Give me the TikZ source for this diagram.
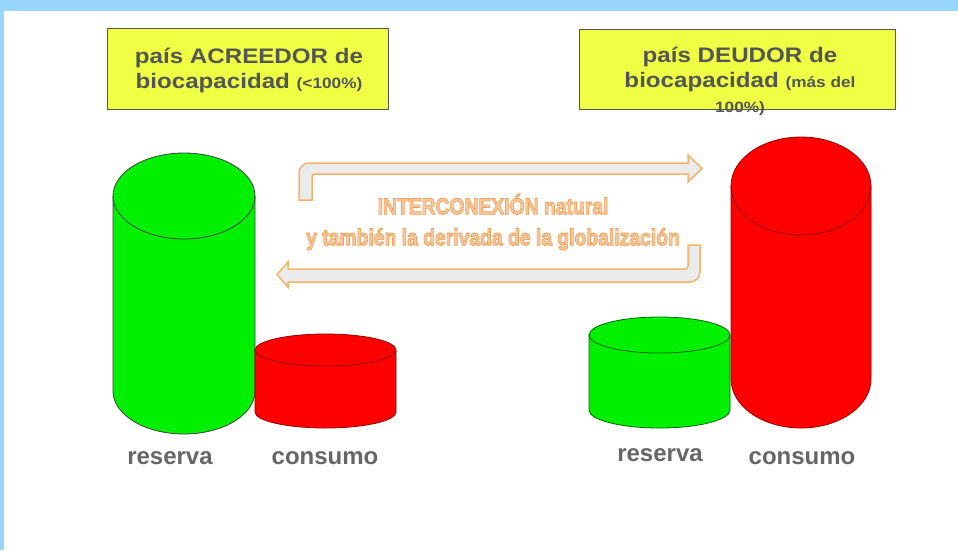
\documentclass[tikz,border=0pt]{standalone}
\usepackage{fontspec}
\setmainfont{Liberation Sans}
\definecolor{bandblue}{HTML}{99D6FF}
\definecolor{boxyellow}{HTML}{EEFF44}
\definecolor{boxtext}{HTML}{555555}
\definecolor{labeltext}{HTML}{666666}
\definecolor{cgreen}{HTML}{00F000}
\definecolor{cred}{HTML}{FF0000}
\definecolor{arrorange}{HTML}{F5B26B}
\definecolor{arrfill}{HTML}{EBEBEB}
\definecolor{midtext}{HTML}{F8CBA6}
\newcommand\cylin[7]{%
  \fill[#6] (#1-#2,#3) -- (#1-#2,#4) arc[start angle=180,end angle=0,x radius=#2,y radius=#5] -- (#1+#2,#3) arc[start angle=0,end angle=-180,x radius=#2,y radius=#5] -- cycle;
  \draw[#7,line width=0.8] (#1-#2,#3) -- (#1-#2,#4) arc[start angle=180,end angle=0,x radius=#2,y radius=#5] -- (#1+#2,#3);
  \draw[#7,line width=0.8] (#1,#3) ellipse[x radius=#2,y radius=#5];
}
\newcommand\outlinetext[1]{\special{pdf:literal direct 2 Tr 0.95 0.62 0.32 RG 0.8 w}#1\special{pdf:literal direct 0 Tr}}
\tikzset{
  ybox/.style={draw=boxtext,line width=1,fill=boxyellow,inner sep=0},
  boxtxt/.style={text=boxtext,font=\bfseries\fontsize{21}{25}\selectfont,align=center,inner sep=0,xscale=1.15},
  lbl/.style={text=labeltext,font=\bfseries\fontsize{24}{26}\selectfont,inner sep=0},
  arr/.style={draw=arrorange,fill=arrfill,line width=1.5},
  mid/.style={text=midtext,font=\bfseries\fontsize{23}{31}\selectfont,align=center,inner sep=0,xscale=0.84}
}
\begin{document}
\begin{tikzpicture}[x=1pt,y=-1pt]
\useasboundingbox (0,0) rectangle (958,550);
\fill[white] (0,0) rectangle (958,550);
\fill[bandblue] (0,0) rectangle (958,11);
\fill[bandblue] (0,0) rectangle (4,550);
% boxes
\node[ybox,minimum width=281,minimum height=81] (boxL) at (248,68.5) {};
\node[boxtxt] (txtL) at (249,70.5) {país ACREEDOR de\\biocapacidad {\fontsize{15}{25}\selectfont(<100\%)}};
\node[ybox,minimum width=316,minimum height=80] (boxR) at (737,69) {};
\node[boxtxt] (txtR) at (740,81) {país DEUDOR de\\biocapacidad {\fontsize{15}{25}\selectfont(más del}\\{\fontsize{15}{22}\selectfont 100\%)}};
% arrows
\draw[arr] (299,200) -- (299,173) arc[start angle=180,end angle=270,radius=10] -- (688,163) -- (688,155) -- (702,168.5) -- (688,182) -- (688,174) -- (315,174) arc[start angle=270,end angle=180,radius=3] -- (312,200) -- cycle;
\draw[arr] (688,245) -- (688,266) arc[start angle=0,end angle=90,radius=3] -- (288,269) -- (288,262) -- (277,274.5) -- (288,287) -- (288,282) -- (690,282) arc[start angle=90,end angle=0,radius=10] -- (700,245) -- cycle;
\node[mid] (midtxt) at (493,222) {\outlinetext{INTERCONEXIÓN natural}\\\outlinetext{y también la derivada de la globalización}};
% cylinders
\cylin{184}{71}{196}{391}{43}{cgreen}{black!75}
\cylin{325.5}{70.5}{350}{412}{16}{cred}{red!60!black}
\cylin{659.5}{70.5}{335}{410}{18}{cgreen}{green!40!black}
\cylin{801}{70}{186}{379}{49}{cred}{red!60!black}
% labels
\node[lbl] (resL) at (170,458) {reserva};
\node[lbl] (conL) at (325,458) {consumo};
\node[lbl] (resR) at (660,455) {reserva};
\node[lbl] (conR) at (802,458) {consumo};
\end{tikzpicture}
\end{document}
